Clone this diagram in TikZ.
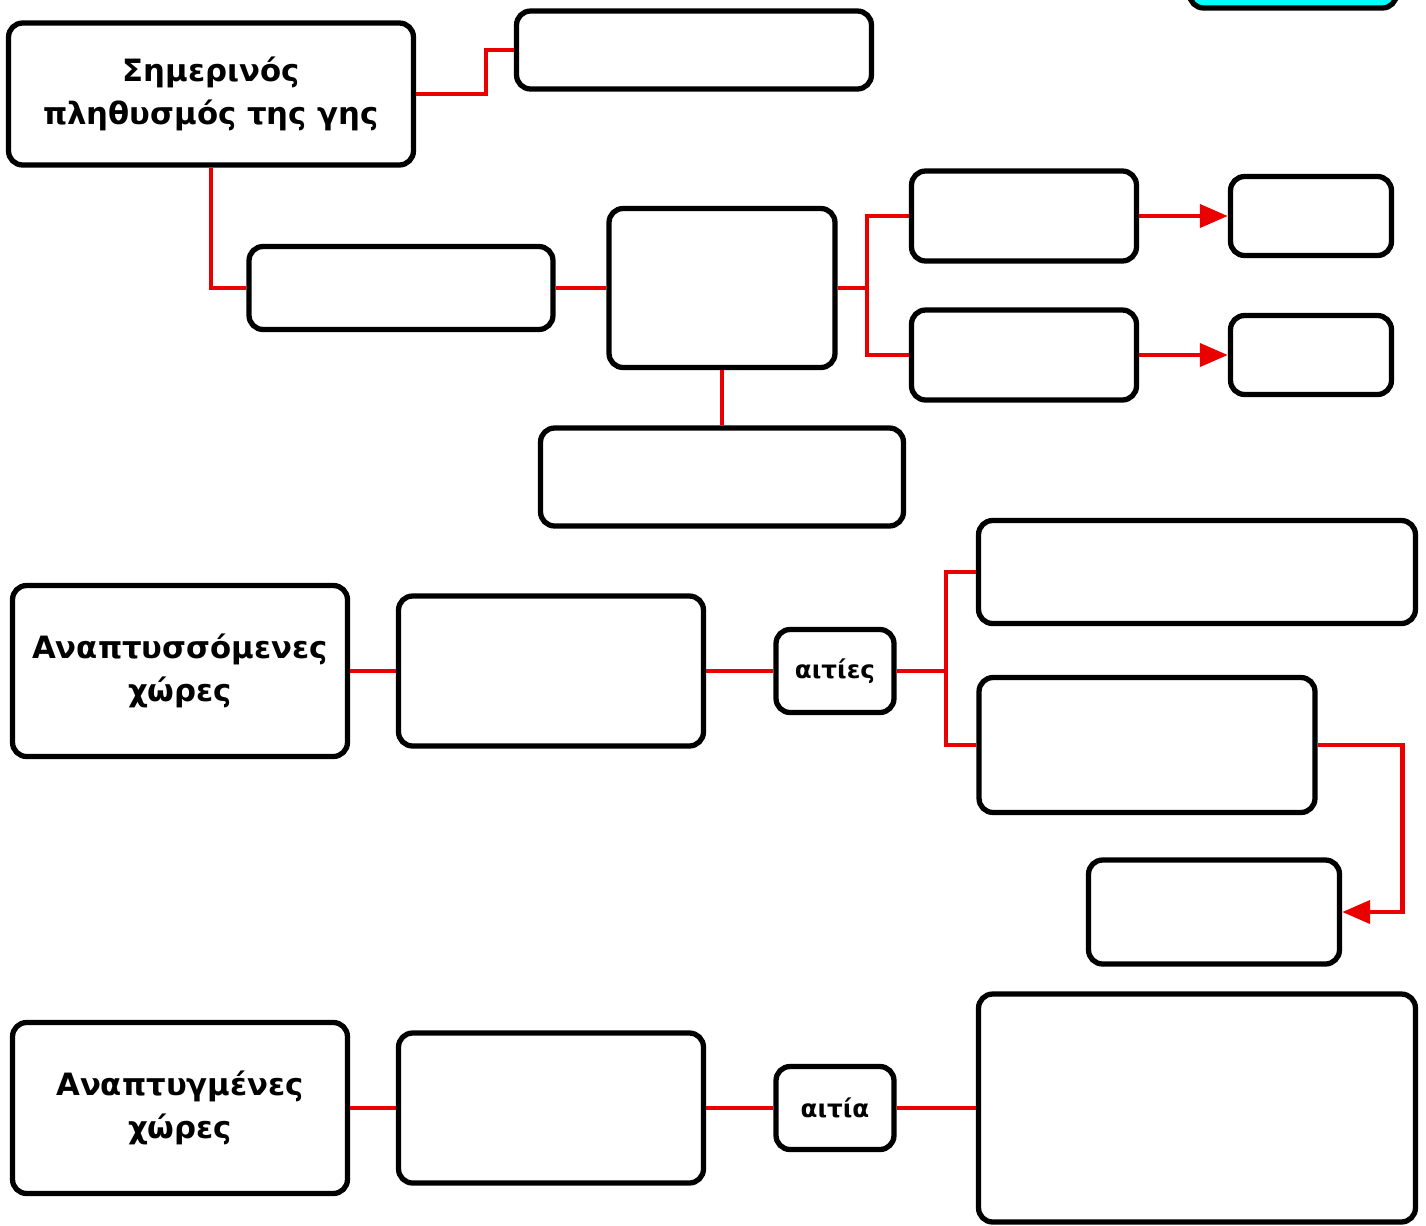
\documentclass[tikz,border=0pt]{standalone}
\usepackage{fontspec}
\setmainfont{DejaVu Sans}
\usetikzlibrary{arrows.meta}
\definecolor{linkred}{RGB}{235,0,0}
\definecolor{tagcyan}{RGB}{0,255,255}
\begin{document}
\begin{tikzpicture}[x=0.02cm, y=-0.02cm,
        box/.style={draw, line width=3pt, rounded corners=8pt, fill=white, inner sep=1pt, align=center, font=\fontsize{17.5}{24.5}\selectfont\bfseries},
        tag/.style={box, font=\fontsize{14}{17}\selectfont\bfseries},
        link/.style={draw=linkred, line width=2.7pt},
        arr/.style={link, -{Triangle[length=16pt, width=13pt]}}]

        \useasboundingbox (0,0) rectangle (1426,1225);

        \node[box, fill=tagcyan, minimum width=4.14cm, minimum height=1.2cm] (legend) at (1293,-22) {};

        \node[box, minimum width=8.1cm, minimum height=2.84cm] (pop) at (211,94) {Σημερινός\\πληθυσμός της γης};
        \node[box, minimum width=7.1cm, minimum height=1.56cm] (top) at (694,50) {};
        \node[box, minimum width=6.08cm, minimum height=1.66cm] (mid) at (401,288) {};
        \node[box, minimum width=4.52cm, minimum height=3.18cm] (hub) at (722,288) {};
        \node[box, minimum width=7.26cm, minimum height=1.96cm] (low) at (722,477) {};
        \node[box, minimum width=4.5cm, minimum height=1.8cm] (up) at (1024,216) {};
        \node[box, minimum width=4.5cm, minimum height=1.8cm] (down) at (1024,355) {};
        \node[box, minimum width=3.22cm, minimum height=1.58cm] (upres) at (1311,216) {};
        \node[box, minimum width=3.22cm, minimum height=1.58cm] (downres) at (1311,355) {};

        \node[box, minimum width=6.7cm, minimum height=3.42cm] (poor) at (180,671) {Αναπτυσσόμενες\\χώρες};
        \node[box, minimum width=6.1cm, minimum height=3cm] (poorfact) at (551,671) {};
        \node[tag, minimum width=2.36cm, minimum height=1.66cm] (causes) at (835,671) {αιτίες};
        \node[box, minimum width=8.74cm, minimum height=2.06cm] (cause1) at (1197,572) {};
        \node[box, minimum width=6.72cm, minimum height=2.7cm] (cause2) at (1147,745) {};
        \node[box, minimum width=5.02cm, minimum height=2.08cm] (effect) at (1214,912) {};

        \node[box, minimum width=6.7cm, minimum height=3.42cm] (rich) at (180,1108) {Αναπτυγμένες\\χώρες};
        \node[box, minimum width=6.1cm, minimum height=3cm] (richfact) at (551,1108) {};
        \node[tag, minimum width=2.36cm, minimum height=1.66cm] (cause) at (835,1108) {αιτία};
        \node[box, minimum width=8.74cm, minimum height=4.56cm] (richcause) at (1197,1108) {};

        \coordinate (k1) at (486,94);
        \coordinate (k2) at (867,288);
        \coordinate (k3) at (946,671);

        \path [link] (pop.east) -- (k1) |- (top.west);
        \path [link] (pop.south) |- (mid.west);
        \path [link] (mid) -- (hub);
        \path [link] (hub) -- (low);
        \path [link] (hub.east) -- (k2) |- (up.west);
        \path [link] (k2) |- (down.west);
        \path [arr] (up) -- (upres);
        \path [arr] (down) -- (downres);

        \path [link] (poor) -- (poorfact);
        \path [link] (poorfact) -- (causes);
        \path [link] (causes.east) -- (k3) |- (cause1.west);
        \path [link] (k3) |- (cause2.west);
        \path [arr] (cause2.east) -- ++(85,0) |- (effect.east);

        \path [link] (rich) -- (richfact);
        \path [link] (richfact) -- (cause);
        \path [link] (cause) -- (richcause);
\end{tikzpicture}
\end{document}
